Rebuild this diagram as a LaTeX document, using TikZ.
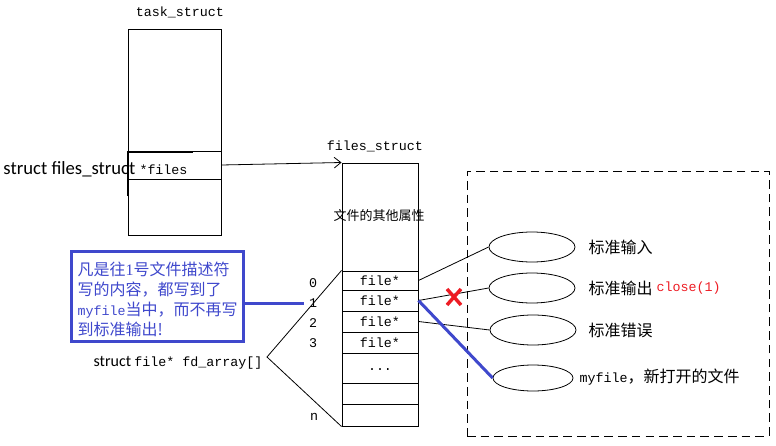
\documentclass[tikz,border=0pt]{standalone}
\usepackage{fontspec}
\setmainfont{Liberation Serif}
\setmonofont{Liberation Mono}
\newfontfamily\cjk{Noto Sans CJK SC}
\newfontfamily\sansf{Carlito}
\usetikzlibrary{fit,arrows.meta,shapes.geometric}
\definecolor{bluel}{RGB}{63,72,204}
\definecolor{redx}{RGB}{237,28,36}
\begin{document}
\begin{tikzpicture}[x=0.75pt,y=-0.75pt,line width=0.75pt,
  box/.style={draw,inner sep=0pt,line width=0.75pt},
  oval/.style={draw,ellipse,inner sep=0pt,minimum width=64.5pt,minimum height=22.5pt,line width=0.6pt},
  mono/.style={font=\ttfamily\fontsize{10}{12}\selectfont},
  cjkt/.style={font=\cjk\fontsize{12}{14}\selectfont},
  conn/.style={draw,line width=0.6pt},
  blueconn/.style={draw=bluel,line width=2.25pt}]
\useasboundingbox (0,0) rectangle (776,446);
% task_struct
\node[mono] (tasktitle) at (180,12) {task\_struct};
\node[box,fit={(128,29) (221,235)}] (task) {};
\node[box,fit={(128,151) (221,179)}] (taskrow) {};
\draw[line width=1.5pt] (128,196) -- (128,152) -- (193,152);
\node[anchor=west,inner sep=0pt,font=\sansf\fontsize{14}{16}\selectfont] (fsdecl) at (3,169) {struct files\_struct};
\node[anchor=west,inner sep=0pt,mono] (filesf) at (139,170) {*files};
% files_struct
\node[mono] (fstitle) at (375,146) {files\_struct};
\node[box,fit={(342,163) (418,426)}] (fs) {};
\node[font=\cjk\fontsize{9.75}{12}\selectfont] (attr) at (379,216) {文件的其他属性};
\node[box,fit={(342,271) (418,290)},mono] (r0) {};
\node[box,fit={(342,290) (418,311)}] (r1) {};
\node[box,fit={(342,311) (418,332)}] (r2) {};
\node[box,fit={(342,332) (418,353)}] (r3) {};
\node[box,fit={(342,353) (418,383)}] (r4) {};
\node[box,fit={(342,383) (418,404)}] (r5) {};
\node[box,fit={(342,404) (418,426)}] (r6) {};
\node[mono] at (r0.center) {file*};
\node[mono] at (r1.center) {file*};
\node[mono] at (r2.center) {file*};
\node[mono] at (r3.center) {file*};
\node[mono] at ([yshift=-1.5pt]r4.center) {...};
\draw[-{Straight Barb[length=5pt,width=8pt]},line width=0.6pt] (taskrow.east) -- (fs.north west);
% indices
\node[mono] (l0) at (313,283) {0};
\node[mono] (l1) at (313,303) {1};
\node[mono] (l2) at (313,323) {2};
\node[mono] (l3) at (313,343) {3};
\node[mono] (ln) at (314,417) {n};
\node[anchor=east,inner sep=0pt] (fdarr) at (263,363) {{\sansf\fontsize{12}{14}\selectfont struct} {\ttfamily\fontsize{10}{12}\selectfont file* fd\_array[]}};
\coordinate (fdtip) at (267,357);
\draw[conn] (r0.north west) -- (fdtip) -- (r6.south west);
% dashed region
\node[draw,inner sep=0pt,line width=0.75pt,dash pattern=on 6.5pt off 3.8pt,fit={(467,171) (769,436)}] (region) {};
\node[oval] (e1) at (532,247) {};
\node[oval] (e2) at (532,288) {};
\node[oval] (e3) at (533,330) {};
\node[oval,minimum width=60pt,minimum height=19.5pt] (e4) at (533,378) {};
\node[cjkt,anchor=west,inner sep=0pt] (t1) at (588,247) {标准输入};
\node[cjkt,anchor=west,inner sep=0pt] (t2) at (588,288) {标准输出};
\node[mono,anchor=west,inner sep=0pt,text=redx] (t2b) at (656,288) {close(1)};
\node[cjkt,anchor=west,inner sep=0pt] (t3) at (588,330) {标准错误};
\node[anchor=west,inner sep=0pt] (t4) at (579,377) {{\ttfamily\fontsize{10}{12}\selectfont myfile}{\cjk\fontsize{12}{14}\selectfont ，新打开的文件}};
\draw[conn] (r0.east) -- (e1.west);
\draw[conn] (r1.east) -- (e2.west);
\draw[conn] (r2.east) -- (e3.west);
\draw[blueconn] (r1.east) -- (e4.west);
% red cross
\coordinate (xc) at (454,297);
\draw[redx,line width=2.6pt] ([shift={(-7,-8)}]xc) -- ([shift={(7,8)}]xc);
\draw[redx,line width=2.6pt] ([shift={(7,-8)}]xc) -- ([shift={(-7,8)}]xc);
% blue note
\node[draw=bluel,line width=2.25pt,inner sep=0pt,fit={(71,251) (243,341)}] (note) {};
\node[anchor=west,align=left,inner sep=0pt,text=bluel,font=\cjk\fontsize{12}{15}\selectfont] (notetext) at (77,299)
 {凡是往{\rmfamily 1}号文件描述符\\写的内容，都写到了\\{\ttfamily\fontsize{10}{12}\selectfont myfile}当中，而不再写\\到标准输出!};
\draw[blueconn] (note.east |- l1) -- (l1.west);
\end{tikzpicture}
\end{document}
